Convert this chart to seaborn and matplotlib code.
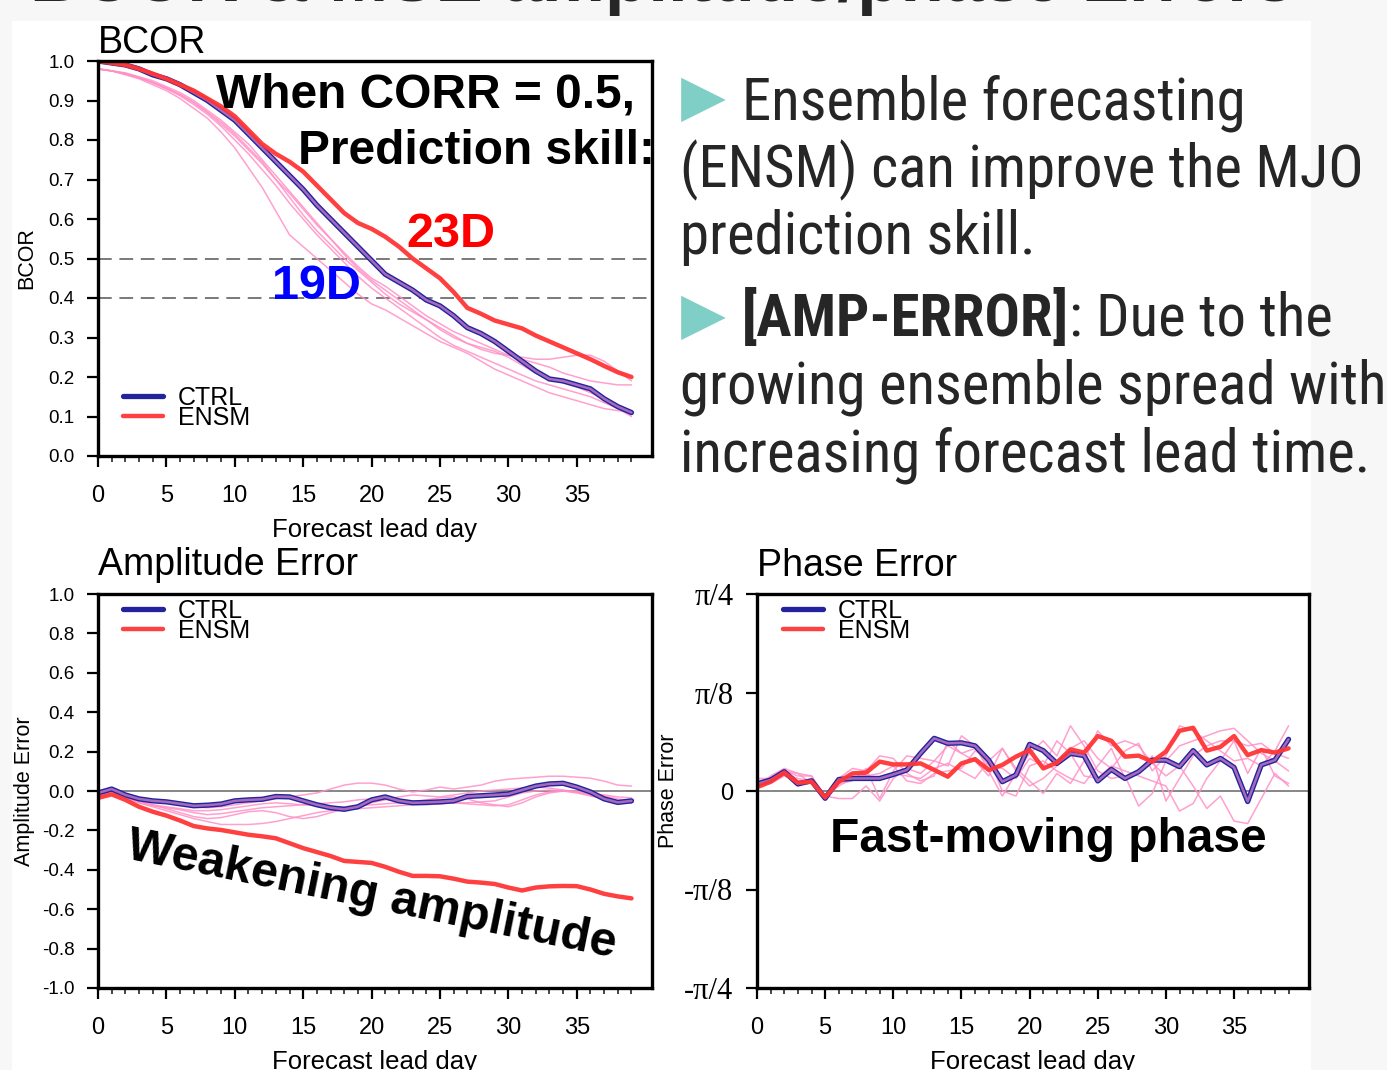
import numpy as np
import pandas as pd
import seaborn as sns
import matplotlib.pyplot as plt
from matplotlib.patches import Rectangle
from matplotlib.text import Annotation
from matplotlib import font_manager as fm

# forecast lead days
days = np.arange(40)

# BCOR panel
bcor_ctrl = [1.00, 0.995, 0.99, 0.98, 0.965, 0.955, 0.94, 0.92, 0.90, 0.875,
             0.85, 0.815, 0.78, 0.745, 0.71, 0.675, 0.635, 0.60, 0.565, 0.53,
             0.495, 0.46, 0.44, 0.42, 0.395, 0.38, 0.355, 0.325, 0.31, 0.29,
             0.265, 0.24, 0.215, 0.195, 0.19, 0.18, 0.17, 0.145, 0.125, 0.11]
bcor_ensm = [1.00, 0.995, 0.99, 0.98, 0.968, 0.955, 0.94, 0.925, 0.905, 0.885,
             0.86, 0.825, 0.79, 0.765, 0.745, 0.72, 0.685, 0.65, 0.615, 0.59,
             0.575, 0.555, 0.53, 0.50, 0.475, 0.45, 0.415, 0.375, 0.36, 0.343,
             0.333, 0.323, 0.305, 0.29, 0.275, 0.26, 0.245, 0.228, 0.212, 0.20]
bcor_m1 = [0.98, 0.975, 0.965, 0.955, 0.94, 0.925, 0.905, 0.88, 0.855, 0.82,
           0.78, 0.73, 0.68, 0.62, 0.56, 0.53, 0.50, 0.47, 0.44, 0.41,
           0.385, 0.37, 0.35, 0.33, 0.31, 0.29, 0.275, 0.26, 0.24, 0.22,
           0.205, 0.19, 0.175, 0.16, 0.15, 0.14, 0.13, 0.12, 0.115, 0.11]
bcor_m2 = [0.98, 0.975, 0.968, 0.958, 0.945, 0.93, 0.915, 0.895, 0.87, 0.845,
           0.815, 0.78, 0.745, 0.70, 0.655, 0.61, 0.57, 0.535, 0.50, 0.47,
           0.44, 0.41, 0.385, 0.365, 0.345, 0.325, 0.305, 0.285, 0.27, 0.26,
           0.255, 0.25, 0.245, 0.245, 0.25, 0.255, 0.255, 0.24, 0.215, 0.19]
bcor_m3 = [0.98, 0.975, 0.97, 0.96, 0.95, 0.935, 0.92, 0.90, 0.875, 0.85,
           0.82, 0.79, 0.75, 0.71, 0.67, 0.63, 0.59, 0.55, 0.51, 0.475,
           0.445, 0.42, 0.395, 0.37, 0.345, 0.32, 0.30, 0.285, 0.275, 0.265,
           0.25, 0.23, 0.21, 0.195, 0.185, 0.175, 0.16, 0.145, 0.125, 0.105]
bcor_m4 = [0.98, 0.975, 0.968, 0.958, 0.945, 0.93, 0.912, 0.89, 0.865, 0.835,
           0.80, 0.765, 0.725, 0.685, 0.64, 0.60, 0.56, 0.525, 0.49, 0.455,
           0.425, 0.40, 0.375, 0.35, 0.325, 0.30, 0.28, 0.265, 0.25, 0.235,
           0.22, 0.205, 0.19, 0.18, 0.17, 0.16, 0.15, 0.135, 0.12, 0.10]
bcor_m5 = [0.98, 0.975, 0.968, 0.958, 0.946, 0.932, 0.915, 0.895, 0.87, 0.84,
           0.81, 0.775, 0.74, 0.70, 0.665, 0.625, 0.585, 0.55, 0.515, 0.48,
           0.45, 0.43, 0.405, 0.38, 0.355, 0.335, 0.315, 0.30, 0.285, 0.27,
           0.255, 0.245, 0.235, 0.225, 0.21, 0.20, 0.19, 0.185, 0.18, 0.18]

# Amplitude error panel
amp_ctrl = [-0.01, 0.01, -0.02, -0.04, -0.05, -0.055, -0.065, -0.075, -0.072, -0.066,
            -0.05, -0.045, -0.042, -0.028, -0.03, -0.05, -0.07, -0.085, -0.093, -0.08,
            -0.045, -0.03, -0.05, -0.06, -0.058, -0.055, -0.05, -0.028, -0.024, -0.02,
            -0.015, 0.005, 0.025, 0.036, 0.039, 0.02, -0.005, -0.04, -0.058, -0.05]
amp_ensm = [-0.035, -0.017, -0.045, -0.08, -0.105, -0.125, -0.15, -0.178, -0.19, -0.198,
            -0.21, -0.222, -0.23, -0.24, -0.265, -0.29, -0.31, -0.33, -0.355, -0.36,
            -0.365, -0.385, -0.41, -0.431, -0.431, -0.433, -0.445, -0.46, -0.465, -0.472,
            -0.49, -0.505, -0.49, -0.484, -0.482, -0.483, -0.50, -0.522, -0.535, -0.545]
amp_m1 = [-0.01, 0.005, -0.02, -0.04, -0.05, -0.06, -0.07, -0.08, -0.085, -0.08,
          -0.07, -0.06, -0.05, -0.04, -0.03, -0.02, -0.01, 0.01, 0.03, 0.04,
          0.04, 0.03, 0.01, -0.005, 0.005, 0.02, 0.01, 0.02, 0.03, 0.05,
          0.06, 0.065, 0.07, 0.075, 0.075, 0.07, 0.065, 0.05, 0.03, 0.025]
amp_m2 = [-0.015, 0.0, -0.03, -0.06, -0.08, -0.10, -0.12, -0.14, -0.155, -0.17,
          -0.17, -0.17, -0.165, -0.155, -0.14, -0.125, -0.11, -0.10, -0.095, -0.09,
          -0.085, -0.08, -0.075, -0.07, -0.07, -0.065, -0.06, -0.06, -0.055, -0.05,
          -0.03, -0.01, 0.0, 0.005, 0.0, -0.01, -0.025, -0.04, -0.05, -0.06]
amp_m3 = [-0.02, 0.0, -0.03, -0.05, -0.07, -0.09, -0.11, -0.13, -0.14, -0.135,
          -0.12, -0.105, -0.10, -0.11, -0.13, -0.14, -0.13, -0.11, -0.09, -0.075,
          -0.06, -0.045, -0.03, -0.02, -0.025, -0.03, -0.02, -0.01, 0.0, 0.005,
          0.01, 0.015, 0.02, 0.015, 0.005, -0.005, -0.015, -0.02, -0.03, -0.035]
amp_m4 = [-0.02, -0.005, -0.035, -0.06, -0.075, -0.085, -0.095, -0.11, -0.12, -0.115,
          -0.105, -0.095, -0.085, -0.08, -0.075, -0.07, -0.065, -0.06, -0.055, -0.045,
          -0.04, -0.04, -0.05, -0.055, -0.045, -0.035, -0.03, -0.04, -0.06, -0.07,
          -0.08, -0.06, -0.03, -0.01, 0.0, -0.005, -0.02, -0.04, -0.055, -0.06]
amp_m5 = [-0.015, 0.0, -0.03, -0.055, -0.07, -0.08, -0.09, -0.10, -0.10, -0.095,
          -0.085, -0.075, -0.065, -0.06, -0.065, -0.07, -0.075, -0.08, -0.08, -0.075,
          -0.07, -0.065, -0.06, -0.06, -0.065, -0.065, -0.06, -0.065, -0.07, -0.075,
          -0.07, -0.045, -0.02, -0.005, 0.0, 0.0, -0.01, -0.025, -0.04, -0.05]

# Phase error panel (radians)
phase_ctrl = [0.028, 0.044, 0.077, 0.028, 0.041, -0.029, 0.046, 0.05, 0.05, 0.05,
              0.066, 0.084, 0.15, 0.21, 0.19, 0.192, 0.18, 0.123, 0.037, 0.064,
              0.186, 0.161, 0.11, 0.15, 0.141, 0.04, 0.086, 0.05, 0.077, 0.123,
              0.123, 0.097, 0.161, 0.104, 0.13, 0.094, -0.042, 0.104, 0.123, 0.206]
phase_ensm = [0.015, 0.037, 0.073, 0.033, 0.037, -0.025, 0.037, 0.07, 0.073, 0.117,
              0.106, 0.106, 0.11, 0.084, 0.057, 0.11, 0.127, 0.084, 0.104, 0.137,
              0.163, 0.09, 0.113, 0.166, 0.153, 0.219, 0.20, 0.137, 0.141, 0.117,
              0.157, 0.24, 0.252, 0.161, 0.176, 0.219, 0.143, 0.163, 0.153, 0.17]
phase_m1 = [0.04, 0.05, 0.08, 0.06, 0.06, -0.03, 0.03, 0.04, 0.09, -0.03,
            0.08, 0.14, 0.13, 0.12, 0.10, 0.22, 0.18, 0.08, -0.02, 0.07,
            0.15, 0.20, 0.14, 0.26, 0.18, 0.08, 0.05, 0.06, -0.06, -0.01,
            0.12, 0.18, 0.20, 0.22, 0.24, 0.25, 0.20, 0.15, 0.12, 0.08]
phase_m2 = [0.02, 0.06, 0.09, 0.07, 0.03, -0.02, 0.05, 0.09, 0.08, 0.14,
            0.13, 0.07, 0.04, 0.06, 0.20, 0.15, 0.12, 0.06, 0.17, 0.09,
            0.04, -0.01, 0.07, 0.03, 0.12, 0.24, 0.18, 0.20, 0.18, 0.11,
            0.06, 0.10, 0.02, -0.07, -0.02, -0.12, -0.13, -0.03, 0.07, 0.02]
phase_m3 = [0.03, 0.04, 0.07, 0.05, 0.04, -0.02, -0.03, -0.03, 0.02, -0.04,
            0.05, 0.09, 0.07, 0.12, 0.18, 0.15, 0.17, 0.10, 0.09, 0.05,
            0.13, 0.10, 0.20, 0.15, 0.06, 0.05, 0.10, 0.08, 0.06, 0.04,
            0.02, -0.08, -0.05, 0.05, 0.12, 0.20, 0.07, 0.17, 0.06, 0.03]
phase_m4 = [0.02, 0.03, 0.06, 0.04, 0.04, -0.03, 0.04, 0.07, 0.06, 0.07,
            0.10, 0.04, 0.03, 0.07, 0.08, 0.09, 0.16, 0.13, 0.0, -0.02,
            0.10, 0.12, 0.08, 0.05, 0.03, 0.10, 0.17, 0.05, 0.08, 0.14,
            -0.04, 0.05, 0.14, 0.18, 0.20, 0.20, 0.18, 0.19, 0.15, 0.13]
phase_m5 = [0.05, 0.05, 0.08, 0.07, 0.06, -0.02, 0.02, 0.05, 0.06, 0.05,
            0.07, 0.06, 0.05, 0.09, 0.11, 0.08, 0.05, 0.12, 0.17, 0.08,
            0.02, 0.05, 0.10, 0.17, 0.20, 0.13, 0.09, 0.16, 0.19, 0.08,
            0.14, 0.26, 0.24, 0.20, 0.16, 0.12, 0.13, 0.10, 0.16, 0.26]

phase_ticks = ["-\u03c0/4", "-\u03c0/8", "0", "\u03c0/8", "\u03c0/4"]

# colours
ctrl_col = "#23239e"
ensm_col = "#ff3535"
memb_col = "#ff90c6"

sns.set_theme(style="white")
plt.rcParams['font.family'] = ['Liberation Sans', 'DejaVu Sans']
plt.rcParams['text.color'] = 'black'
plt.rcParams['axes.labelcolor'] = 'black'


# look for a condensed sans face for the slide text, if one is installed
def find_condensed(bold):
    prefs = ["Liberation Sans Narrow", "Arial Narrow", "Roboto Condensed", "Open Sans Condensed",
             "Noto Sans", "Noto Sans Condensed", "DejaVu Sans", "DejaVu Sans Condensed",
             "Open Sans", "Roboto", "Lato", "Inter"]
    best = None
    for f in fm.fontManager.ttflist:
        cond = (str(f.stretch) in ("condensed", "semi-condensed")
                or "Narrow" in f.name or "Condensed" in f.name)
        if not cond or f.style != "normal":
            continue
        try:
            w = int(f.weight)
        except (TypeError, ValueError):
            w = 700 if "bold" in str(f.weight) else 400
        if bold and not (600 <= w <= 800):
            continue
        if not bold and not (350 <= w <= 500):
            continue
        rank = prefs.index(f.name) if f.name in prefs else len(prefs)
        if best is None or rank < best[0]:
            best = (rank, f.fname)
    return best[1] if best else None


reg_file = find_condensed(False)
bold_file = find_condensed(True)


def side_props(bold=False):
    fname = bold_file if bold else reg_file
    if fname:
        return dict(fontproperties=fm.FontProperties(fname=fname))
    return dict(family=["Liberation Sans", "DejaVu Sans"], fontweight="bold" if bold else "normal")


W, H = 1387, 1070
fig = plt.figure(figsize=(W / 100, H / 100), dpi=100, facecolor="#f7f7f7")
fig.patches.append(Rectangle((12 / W, 0), 1299 / W, 1 - 21 / H, transform=fig.transFigure,
                             facecolor="white", edgecolor="none", zorder=-5))

# slide title, cut off at the top edge
fig.text(30 / W, 1 - 1 / H, "BCOR & MSE amplitude/phase Errors", fontsize=51,
         fontweight="bold", color="#262626", va="baseline")

ax1 = fig.add_axes([98 / W, 1 - 456 / H, 554 / W, 395 / H])
ax2 = fig.add_axes([98 / W, 1 - 988 / H, 554 / W, 394 / H])
ax3 = fig.add_axes([757 / W, 1 - 988 / H, 552 / W, 394 / H])


def draw_panel(ax, ctrl, ensm, members):
    for m in members:
        sns.lineplot(x=days, y=m, color=memb_col, lw=1.1, alpha=0.85, ax=ax)
    sns.lineplot(x=days, y=ctrl, color=ctrl_col, lw=3.8, label="CTRL", ax=ax)
    sns.lineplot(x=days, y=ctrl, color="#ff9ad0", lw=1.8, alpha=0.6, ax=ax)
    sns.lineplot(x=days, y=ensm, color=ensm_col, lw=3.2, alpha=0.95, label="ENSM", ax=ax)


def style(ax):
    ax.set_xlim(0, 40.5)
    for s in ax.spines.values():
        s.set_visible(True)
        s.set_linewidth(2.4)
        s.set_color("black")
    ax.set_xticks(range(0, 40, 5))
    ax.set_xticks(range(0, 40), minor=True)
    ax.tick_params(axis="x", which="major", direction="out", length=8, width=1.6,
                   labelsize=17, pad=13, bottom=True, top=False, colors="black")
    ax.tick_params(axis="x", which="minor", direction="out", length=4, width=1.2,
                   bottom=True, top=False)
    ax.tick_params(axis="y", which="major", direction="out", length=8, width=1.6,
                   labelsize=13.5, pad=9, left=True, right=False, colors="black")
    ax.set_xlabel("Forecast lead day", fontsize=18.5, labelpad=8)
    ax.grid(False)


def legend(ax, anchor):
    ax.legend(loc="upper left", bbox_to_anchor=anchor, frameon=False, fontsize=18,
              handlelength=1.6, handletextpad=0.6, labelspacing=-0.15,
              borderpad=0, borderaxespad=0)


# BCOR
draw_panel(ax1, bcor_ctrl, bcor_ensm, [bcor_m1, bcor_m2, bcor_m3, bcor_m4, bcor_m5])
ax1.axhline(0.5, color="#555555", lw=1.1, ls=(0, (9, 5)), zorder=0)
ax1.axhline(0.4, color="#555555", lw=1.1, ls=(0, (9, 5)), zorder=0)
ax1.set_ylim(0, 1)
ax1.set_yticks(np.arange(0, 1.01, 0.1))
ax1.set_yticklabels([f"{v:.1f}" for v in np.arange(0, 1.01, 0.1)])
style(ax1)
ax1.set_ylabel("BCOR", fontsize=15.5, labelpad=8)
ax1.set_title("BCOR", loc="left", fontsize=27, pad=5, color="black")
legend(ax1, (0.045, 0.178))
ax1.text(0.97, 0.915, "When CORR = 0.5,", transform=ax1.transAxes, ha="right", va="center",
         fontsize=34.5, fontweight="bold")
ax1.text(1.006, 0.77, "Prediction skill:", transform=ax1.transAxes, ha="right", va="center",
         fontsize=34.5, fontweight="bold")
ax1.text(25.8, 0.562, "23D", ha="center", va="center", fontsize=35, fontweight="bold", color="#ff0000")
ax1.text(15.96, 0.428, "19D", ha="center", va="center", fontsize=35, fontweight="bold", color="#0000ff")

# Amplitude error
draw_panel(ax2, amp_ctrl, amp_ensm, [amp_m1, amp_m2, amp_m3, amp_m4, amp_m5])
ax2.axhline(0, color="#666666", lw=1.1, zorder=0)
ax2.set_ylim(-1, 1)
ax2.set_yticks(np.arange(-1, 1.01, 0.2))
ax2.set_yticklabels([f"{v:.1f}" if abs(v) > 1e-9 else "0.0" for v in np.arange(-1, 1.01, 0.2)])
style(ax2)
ax2.set_ylabel("Amplitude Error", fontsize=15.5, labelpad=5)
ax2.set_title("Amplitude Error", loc="left", fontsize=27, pad=14, color="black")
legend(ax2, (0.045, 0.988))
ax2.text(20.0, -0.53, "Weakening amplitude", ha="center", va="center", rotation=-11.5,
         rotation_mode="anchor", fontsize=35, fontweight="bold")

# Phase error
draw_panel(ax3, phase_ctrl, phase_ensm, [phase_m1, phase_m2, phase_m3, phase_m4, phase_m5])
ax3.axhline(0, color="#666666", lw=1.1, zorder=0)
ax3.set_ylim(-np.pi / 4, np.pi / 4)
ax3.set_yticks(np.pi / 8 * np.arange(-2, 3))
ax3.set_yticklabels(phase_ticks)
style(ax3)
for lab in ax3.get_yticklabels():
    if lab.get_text() != "0":
        lab.set_family("Liberation Serif")
        lab.set_fontsize(22)
    else:
        lab.set_fontsize(17)
ax3.set_ylabel("Phase Error", fontsize=15.5, labelpad=4)
ax3.set_title("Phase Error", loc="left", fontsize=27, pad=13, color="black")
legend(ax3, (0.047, 0.988))
ax3.text(21.35, -0.195, "Fast-moving phase", ha="center", va="center",
         fontsize=34.5, fontweight="bold")

# bullet text on the right
side_size = 46
side_col = "#262626"
tri = dict(fontsize=42, color="#80cfc6", va="center", family="DejaVu Sans")
fig.text(681 / W, 1 - 98 / H, "\u25b6", **tri)
fig.text(681 / W, 1 - 316 / H, "\u25b6", **tri)
side = []
side.append(fig.text(742 / W, 1 - 120 / H, "Ensemble forecasting", va="baseline", color=side_col, **side_props()))
side.append(fig.text(680 / W, 1 - 187 / H, "(ENSM) can improve the MJO", va="baseline", color=side_col, **side_props()))
side.append(fig.text(680 / W, 1 - 254 / H, "prediction skill.", va="baseline", color=side_col, **side_props()))
side.append(fig.text(680 / W, 1 - 404 / H, "growing ensemble spread with", va="baseline", color=side_col, **side_props()))
side.append(fig.text(680 / W, 1 - 472 / H, "increasing forecast lead time.", va="baseline", color=side_col, **side_props()))
# widths of these lines on the slide, in pixels
side_widths = [503, 700, 335, 705, 675]
amp_t = fig.text(742 / W, 1 - 336 / H, "[AMP-ERROR]", va="baseline", color=side_col, **side_props(True))
due_t = Annotation(": Due to the", xy=(1, 0), xycoords=amp_t, va="bottom", ha="left",
                   color=side_col, annotation_clip=False, **side_props())
fig.add_artist(due_t)
for t in side + [amp_t, due_t]:
    t.set_fontsize(side_size)

# scale the slide text so the lines take about the widths they have on the slide
fig.canvas.draw()
ren = fig.canvas.get_renderer()
ratios = [w / t.get_window_extent(ren).width for t, w in zip(side, side_widths)]
scale = min(float(np.median(ratios)), 1.1)
for t in side + [amp_t, due_t]:
    t.set_fontsize(side_size * scale)

fig.savefig("out.png", dpi=100, facecolor=fig.get_facecolor())
